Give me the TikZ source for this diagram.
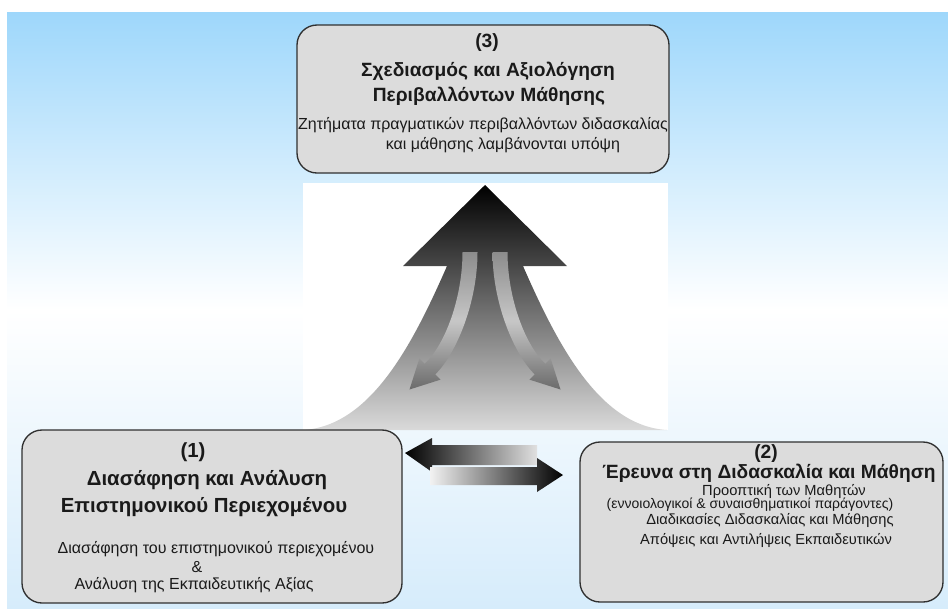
\documentclass[tikz,border=0pt]{standalone}
\usepackage{fontspec}
\setmainfont{Liberation Sans}
\definecolor{bgtop}{HTML}{9ED7FB}
\definecolor{bgbot}{HTML}{D6ECFB}
\definecolor{boxfill}{HTML}{DCDCDC}
\definecolor{boxline}{HTML}{303030}
\definecolor{txt}{HTML}{1A1A1A}
\definecolor{mtbot}{HTML}{DADADA}
\begin{document}
\begin{tikzpicture}[x=0.75pt,y=0.75pt,
  box/.style={draw=boxline, line width=1pt, fill=boxfill, rounded corners=15pt, inner sep=0pt},
  ttl/.style={text=txt, font=\bfseries\fontsize{14.4}{16}\selectfont, text height=10.5pt, text depth=3.3pt, inner sep=0pt},
  ttlb/.style={text=txt, font=\bfseries\fontsize{15.3}{17}\selectfont, text height=11pt, text depth=3.5pt, inner sep=0pt},
  dsc/.style={text=txt, font=\fontsize{12}{14}\selectfont, text height=8.7pt, text depth=2.7pt, inner sep=0pt},
  dscb/.style={text=txt, font=\fontsize{11}{13}\selectfont, text height=8pt, text depth=2.5pt, inner sep=0pt},
  sml/.style={text=txt, font=\fontsize{10.5}{12}\selectfont, text height=7.6pt, text depth=2.4pt, inner sep=0pt}]
\useasboundingbox (0,0) rectangle (948,-612);
% background
\shade[top color=bgtop, bottom color=bgbot, middle color=white] (7,-12) rectangle (948,-608);
% white panel behind the mountain arrow
\fill[white] (303,-183) rectangle (668,-430);
% mountain arrow
\shade[top color=black, bottom color=mtbot]
  (485,-185) -- (567,-266) -- (523,-266)
  .. controls (558,-346) and (600,-426) .. (667,-430)
  -- (303,-430)
  .. controls (370,-426) and (412,-346) .. (447,-266)
  -- (403,-266) -- cycle;
% curved arrows inside
\shade[top color=black!45, bottom color=black!58, middle color=black!22]
  (492.5,-252) -- (507.5,-252)
  .. controls (507.5,-298) and (525,-345) .. (545.3,-363.7)
  -- (550.6,-358.4) -- (560.5,-389.5) -- (529.4,-379.6) -- (534.7,-374.3)
  .. controls (514,-354) and (492.5,-303) .. (492.5,-252) -- cycle;
\shade[top color=black!45, bottom color=black!58, middle color=black!22]
  (477.5,-252) -- (462.5,-252)
  .. controls (462.5,-298) and (445,-345) .. (424.7,-363.7)
  -- (419.4,-358.4) -- (409.5,-389.5) -- (440.6,-379.6) -- (435.3,-374.3)
  .. controls (456,-354) and (477.5,-303) .. (477.5,-252) -- cycle;
% double arrow
\shade[left color=black, right color=black!12]
  (405,-453) -- (432,-438) -- (432,-445) -- (537,-445) -- (537,-465)
  -- (432,-465) -- (432,-472) -- cycle;
\shade[left color=black!5, right color=black]
  (430,-467) -- (537,-467) -- (537,-458) -- (563,-475) -- (537,-492)
  -- (537,-485) -- (430,-485) -- cycle;
% boxes
\node[box, minimum width=279pt, minimum height=111pt] (b3) at (483,-99) {};
\node[box, minimum width=285pt, minimum height=129.75pt] (b1) at (212,-516.5) {};
\node[box, minimum width=272.25pt, minimum height=120pt] (b2) at (761.5,-522) {};
% box 3 text
\node[ttl] (b3a) at (487,-43) {(3)};
\node[ttl] (b3b) at (488,-72) {Σχεδιασμός και Αξιολόγηση};
\node[ttl] (b3c) at (489,-97) {Περιβαλλόντων Μάθησης};
\node[dsc] (b3d) at (483,-125) {Ζητήματα πραγματικών περιβαλλόντων διδασκαλίας};
\node[dsc] (b3e) at (503,-145) {και μάθησης λαμβάνονται υπόψη};
% box 1 text
\node[ttlb] (b1a) at (193,-452) {(1)};
\node[ttlb] (b1b) at (207,-480) {Διασάφηση και Ανάλυση};
\node[ttlb] (b1c) at (204,-507) {Επιστημονικού Περιεχομένου};
\node[dsc] (b1d) at (216,-549) {Διασάφηση του επιστημονικού περιεχομένου};
\node[dsc] (b1e) at (197,-568) {\&};
\node[dsc] (b1f) at (194,-585) {Ανάλυση της Εκπαιδευτικής Αξίας};
% box 2 text
\node[ttl] (b2a) at (766,-454) {(2)};
\node[ttl] (b2b) at (769,-474) {Έρευνα στη Διδασκαλία και Μάθηση};
\node[dscb] (b2c) at (784,-492) {Προοπτική των Μαθητών};
\node[sml] (b2d) at (750,-505) {(εννοιολογικοί \& συναισθηματικοί παράγοντες)};
\node[dscb] (b2e) at (770,-521) {Διαδικασίες Διδασκαλίας και Μάθησης};
\node[dscb] (b2f) at (766,-541) {Απόψεις και Αντιλήψεις Εκπαιδευτικών};
\end{tikzpicture}
\end{document}
